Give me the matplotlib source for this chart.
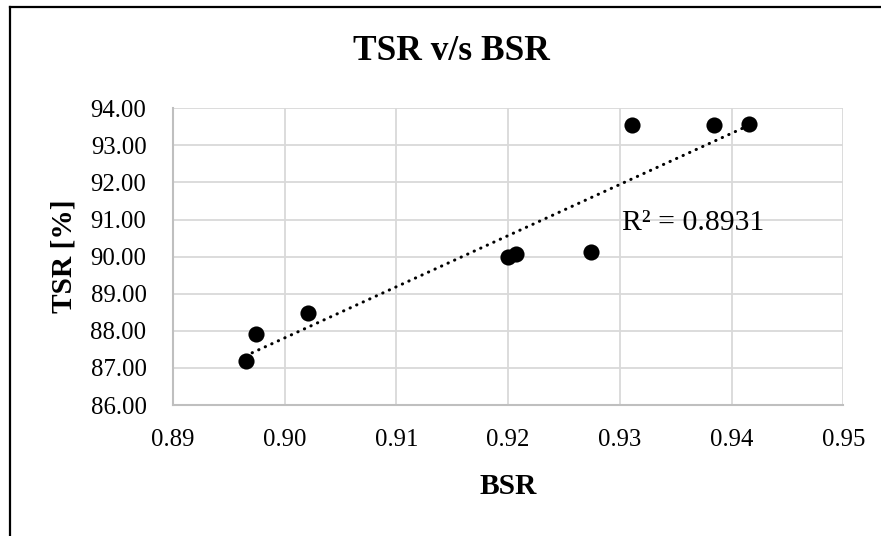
import numpy as np
import matplotlib
matplotlib.use("Agg")
import matplotlib.pyplot as plt
from matplotlib.lines import Line2D

# Blade/tip speed ratio measurements
bsr = [0.8965, 0.8974, 0.9021, 0.9200, 0.9207, 0.9274, 0.9311, 0.9384, 0.9416]
tsr = [87.19, 87.91, 88.47, 90.00, 90.07, 90.13, 93.55, 93.55, 93.58]

x_ticks = [0.89, 0.90, 0.91, 0.92, 0.93, 0.94, 0.95]
y_ticks = [86.0, 87.0, 88.0, 89.0, 90.0, 91.0, 92.0, 93.0, 94.0]

title = "TSR v/s BSR"
x_label = "BSR"
y_label = "TSR [%]"
r2_label = "R² = 0.8931"

plt.rcParams["font.family"] = ["Liberation Serif", "DejaVu Serif"]

W, H = 881, 536
fig = plt.figure(figsize=(W / 100, H / 100), dpi=100)
fig.patch.set_facecolor("white")

ax = fig.add_axes([173 / W, 1 - 405 / H, (843.3 - 173) / W, (405 - 108.3) / H])

# Linear trendline over the measured range
coef = np.polyfit(bsr, tsr, 1)
xs = np.array([min(bsr), max(bsr)])
ax.plot(xs, np.polyval(coef, xs), color="black", lw=2.2,
        linestyle=(0, (0.1, 2.25)), dash_capstyle="round", zorder=3)

ax.scatter(bsr, tsr, s=135, color="black", zorder=4, linewidths=0)

ax.set_xlim(x_ticks[0], x_ticks[-1])
ax.set_ylim(y_ticks[0], y_ticks[-1])
ax.set_xticks(x_ticks)
ax.set_yticks(y_ticks)
ax.set_xticklabels([f"{v:.2f}" for v in x_ticks])
ax.set_yticklabels([f"{v:.2f}" for v in y_ticks])
ax.tick_params(length=0, labelsize=17.8, colors="black")
ax.tick_params(axis="y", pad=19)
ax.tick_params(axis="x", pad=17)

ax.grid(True, color="#d9d9d9", lw=1.3)
ax.set_axisbelow(True)
for side in ("top", "right"):
    ax.spines[side].set_visible(False)
for side in ("left", "bottom"):
    ax.spines[side].set_color("#bfbfbf")
    ax.spines[side].set_linewidth(1.5)

ax.text(0.9302, 90.9, r2_label, fontsize=21.4, ha="left", va="center", zorder=5)

fig.text(451 / W, 1 - 52 / H, title, fontsize=25.5, fontweight="bold",
         ha="center", va="center")
fig.text(508 / W, 1 - 487 / H, x_label, fontsize=21.2, fontweight="bold",
         ha="center", va="center")
fig.text(64 / W, 1 - 256 / H, y_label, fontsize=21.2, fontweight="bold",
         ha="center", va="center", rotation=90)

# Outer chart frame (top and left edges)
fig.add_artist(Line2D([10 / W, 1.0], [1 - 7 / H, 1 - 7 / H], color="black",
                      lw=1.6, transform=fig.transFigure))
fig.add_artist(Line2D([10 / W, 10 / W], [1 - 7 / H, 0.0], color="black",
                      lw=1.6, transform=fig.transFigure))

fig.savefig("out.png", dpi=100, facecolor="white")
